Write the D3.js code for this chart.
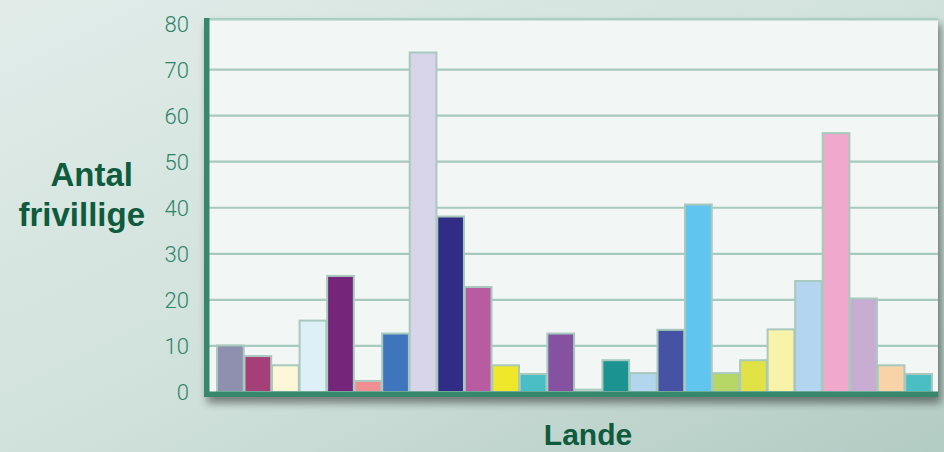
<!DOCTYPE html>
<html>
<head>
<meta charset="utf-8">
<script src="https://cdn.jsdelivr.net/npm/d3@7"></script>
<style>
  html, body { margin: 0; padding: 0; }
  body { width: 944px; height: 452px; overflow: hidden; }
</style>
</head>
<body>
<div id="chart"></div>
<script>
var width = 944
var height = 452

// one bar per country, no names on the axis in the original
const countries = d3.range(1, 27).map(i => "L" + i)
const volunteers = [10.1, 7.8, 5.8, 15.5, 25.2, 2.4, 12.7, 73.7, 38.1, 22.8,
                    5.8, 3.9, 12.7, 0.5, 6.9, 4.1, 13.5, 40.7, 4.1, 6.9,
                    13.6, 24.1, 56.2, 20.3, 5.8, 3.9]
const barColors = ["#8f8fb0", "#a43f78", "#fdf7d8", "#ddf0f8", "#76267a", "#ef8f91",
                   "#3f75bd", "#d8d5eb", "#312d86", "#b95ba1", "#efe72a", "#49bec4",
                   "#8452a0", "#f2f6f4", "#1a9391", "#b3d6ef", "#4652a3", "#60c5ef",
                   "#b6d666", "#e0e245", "#f8f3a9", "#b3d5ef", "#f0a9cc", "#c8acd2",
                   "#f7d3a7", "#4abfc3"]
const yTicks = [0, 10, 20, 30, 40, 50, 60, 70, 80]

const yLabel = ["Antal", "frivillige"]
const xLabel = "Lande"

var svg = d3.select("#chart")
            .append("svg")
            .attr("width", width)
            .attr("height", height)

var defs = svg.append("defs")

var bg = defs.append("linearGradient")
             .attr("id", "bg")
             .attr("x1", 0).attr("y1", 0).attr("x2", 1).attr("y2", 1)
bg.append("stop").attr("offset", "0%").attr("stop-color", "#e1ece9")
bg.append("stop").attr("offset", "55%").attr("stop-color", "#cfe0da")
bg.append("stop").attr("offset", "100%").attr("stop-color", "#b2cbc3")

var shadow = defs.append("filter").attr("id", "shadow")
                 .attr("x", "-5%").attr("y", "-5%").attr("width", "115%").attr("height", "120%")
shadow.append("feGaussianBlur").attr("in", "SourceAlpha").attr("stdDeviation", 4)
shadow.append("feOffset").attr("dx", 3).attr("dy", 6).attr("result", "blur")
shadow.append("feComponentTransfer").append("feFuncA").attr("type", "linear").attr("slope", 0.45)
var merge = shadow.append("feMerge")
merge.append("feMergeNode")
merge.append("feMergeNode").attr("in", "SourceGraphic")

svg.append("rect")
   .attr("width", width)
   .attr("height", height)
   .attr("fill", "url(#bg)")

// plot frame (don't call it "top", that's window.top)
var plotLeft = 204, plotRight = 938, plotTop = 18, plotBottom = 397

var x = d3.scaleBand()
          .domain(countries)
          .range([217, 932])
          .paddingInner(0.03)
          .paddingOuter(0)

var y = d3.scaleLinear()
          .domain([0, 80])
          .range([392, 23.5])

svg.append("rect")
   .attr("x", plotLeft)
   .attr("y", plotTop)
   .attr("width", plotRight - plotLeft)
   .attr("height", plotBottom - plotTop)
   .attr("fill", "#f2f6f4")
   .attr("filter", "url(#shadow)")

svg.append("rect")
   .attr("x", plotLeft)
   .attr("y", plotTop)
   .attr("width", plotRight - plotLeft)
   .attr("height", 2.5)
   .attr("fill", "#a9cfc1")

// gridlines
svg.append("g")
   .selectAll("line")
   .data(yTicks.filter(d => d > 0 && d < 80))
   .enter()
   .append("line")
   .attr("x1", plotLeft + 5)
   .attr("x2", plotRight)
   .attr("y1", d => y(d))
   .attr("y2", d => y(d))
   .style("stroke", "#a8c9bd")
   .style("stroke-width", 2.2)

// bars
svg.append("g")
   .selectAll("rect")
   .data(volunteers)
   .enter()
   .append("rect")
   .attr("x", (d, i) => x(countries[i]))
   .attr("y", d => y(d))
   .attr("width", x.bandwidth())
   .attr("height", d => y(0) - y(d))
   .attr("fill", (d, i) => barColors[i])
   .style("stroke", "#a8c9bd")
   .style("stroke-width", 2)

// axes lines
svg.append("rect")
   .attr("x", plotLeft)
   .attr("y", 391.5)
   .attr("width", plotRight - plotLeft)
   .attr("height", 5.5)
   .attr("fill", "#37876d")

svg.append("rect")
   .attr("x", plotLeft)
   .attr("y", plotTop)
   .attr("width", 5.5)
   .attr("height", plotBottom - plotTop)
   .attr("fill", "#37876d")

// y axis tick labels
var yAxis = d3.axisLeft(y)
              .tickValues(yTicks)
              .tickSize(0)
              .tickPadding(0)

var yg = svg.append("g")
            .attr("transform", "translate(189,0)")
            .call(yAxis)
yg.select(".domain").remove()
yg.selectAll("text")
  .attr("fill", "#2f8367")
  .style("font-family", "Roboto, 'Open Sans', sans-serif")
  .style("font-weight", 300)
  .style("font-size", "22px")
  .attr("dy", "0.35em")

// titles
svg.append("text")
   .attr("text-anchor", "end")
   .style("font-family", "'Liberation Sans', Arial, sans-serif")
   .style("font-weight", "bold")
   .style("font-size", "33px")
   .attr("fill", "#0e5b3d")
   .selectAll("tspan")
   .data(yLabel)
   .enter()
   .append("tspan")
   .attr("x", (d, i) => i === 0 ? 133 : 145)
   .attr("y", (d, i) => 186 + i * 40)
   .text(d => d)

svg.append("text")
   .attr("x", 588)
   .attr("y", 445)
   .attr("text-anchor", "middle")
   .style("font-family", "'Liberation Sans', Arial, sans-serif")
   .style("font-weight", "bold")
   .style("font-size", "30px")
   .attr("fill", "#0e5b3d")
   .text(xLabel)
</script>
</body>
</html>
